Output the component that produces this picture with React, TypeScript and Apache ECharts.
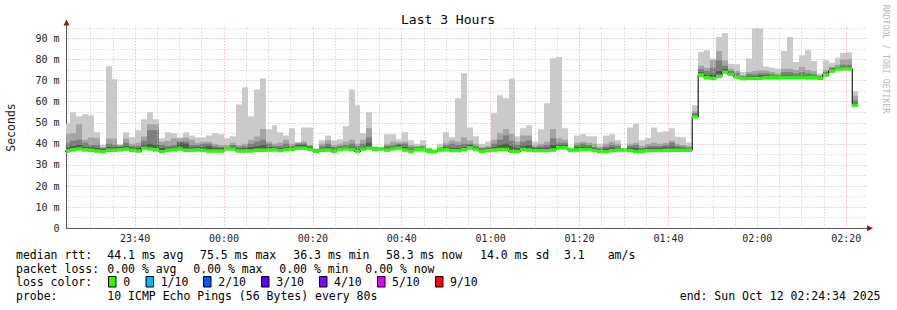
import React, { useEffect, useRef } from 'react';
import * as echarts from 'echarts';

// ---- time frame ----
const startClock = '23:24:34';
const endClock = '02:24:34';
const firstStepClock = '23:24:02';
const stepSeconds = 80;
const tickLabels = ['23:40', '00:00', '00:20', '00:40', '01:00', '01:20', '01:40', '02:00', '02:20'];
const gridMinutesStep = 5;
const majorGridMinutes = 20;

// ---- series (ms), one value per 80 s step ----
const median = [
  36.6, 37.2, 37.6, 37.2, 37.0, 36.6, 36.3, 37.0, 37.0, 37.2, 37.6, 37.0, 36.6, 38.0, 37.6, 37.2, 36.3, 37.0, 37.2, 37.6,
  37.0, 37.0, 37.2, 37.0, 36.6, 36.6, 36.6, 37.6, 37.6, 36.6, 36.6, 36.6, 37.0, 37.0,
  37.1, 37.2, 36.8, 37.3, 37.4, 38.0, 38.0, 37.4, 36.4, 37.0, 37.1, 36.5, 37.3, 37.6, 37.3, 36.4, 37.5, 38.0, 37.3, 37.6,
  37.1, 37.6, 38.0, 37.1, 36.5, 37.2, 37.2, 36.5, 36.3, 37.2, 37.2, 36.8, 36.8, 37.3,
  38.1, 37.3, 36.4, 36.8, 37.1, 37.3, 37.3, 36.4, 36.4, 37.3, 37.1, 36.8, 36.8, 36.8, 37.1, 38.2, 38.2, 37.1, 37.1, 37.3,
  37.3, 36.8, 36.3, 36.3, 36.8, 37.1, 37.1, 36.8, 36.4, 36.5, 36.8, 36.8, 36.8, 37.0,
  37.0, 37.0, 37.0, 37.0, 52.8, 72.6, 71.3, 71.0, 72.0, 74.0, 73.0, 71.7, 70.9, 71.0, 71.0, 71.0, 71.3, 71.3, 71.3, 71.5,
  71.5, 71.5, 71.5, 71.3, 71.3, 71.0, 72.7, 74.5, 75.5, 75.5, 75.5, 58.3,
];
const rttMin = [
  35.8, 36.4, 36.6, 36.3, 36.2, 35.9, 35.7, 36.2, 36.1, 36.4, 36.5, 36.2, 35.9, 36.8, 36.7, 36.3, 35.6, 36.2, 36.3, 36.5,
  36.1, 36.2, 36.4, 36.2, 35.9, 35.9, 35.8, 36.5, 36.5, 35.9, 35.8, 35.9, 36.2, 36.3,
  36.3, 36.4, 36.0, 36.5, 36.6, 37.0, 37.1, 36.6, 35.7, 36.2, 36.3, 35.8, 36.5, 36.8, 36.5, 35.7, 36.6, 37.1, 36.5, 36.8,
  36.3, 36.8, 37.1, 36.3, 35.8, 36.4, 36.4, 35.8, 35.6, 36.4, 36.4, 36.0, 36.0, 36.5,
  37.2, 36.5, 35.7, 36.0, 36.3, 36.5, 36.5, 35.7, 35.7, 36.5, 36.3, 36.0, 36.0, 36.0, 36.3, 37.3, 37.3, 36.3, 36.3, 36.5,
  36.5, 36.0, 35.6, 35.6, 36.0, 36.3, 36.3, 36.0, 35.7, 35.8, 36.0, 36.0, 36.0, 36.2,
  36.2, 36.2, 36.2, 36.2, 52.0, 71.5, 70.4, 70.2, 71.0, 73.0, 72.0, 70.8, 70.1, 70.2, 70.2, 70.2, 70.5, 70.5, 70.5, 70.6,
  70.6, 70.6, 70.6, 70.5, 70.5, 70.2, 71.8, 73.6, 74.5, 74.5, 74.5, 57.6,
];
const ping7 = [
  38.5, 39, 39.5, 38.5, 38.5, 38, 37.5, 38.5, 38.5, 38.5, 39, 38.3, 38, 39.5, 40, 39.5, 38, 38.2, 38.3, 40.6,
  40, 38.3, 38.5, 38.5, 39, 38, 38, 38.3, 38.8, 37.8, 38, 38.5, 39, 39.5,
  38.5, 38.3, 38, 38.5, 38.3, 39.5, 39.5, 38.5, 37, 38, 38.5, 37.5, 38.3, 38.5, 38.5, 37.5, 38.5, 40.5, 38, 37.8,
  38.3, 38.5, 39.5, 38.5, 37.5, 38, 38, 37, 36.8, 37.7, 38.5, 38, 38, 38.5,
  39.5, 38.3, 37.3, 37.8, 38.5, 39.5, 40, 39, 38, 39, 39.5, 38, 38, 38.3, 39.5, 39.5, 39.5, 37.4, 38.5, 38.8,
  38.5, 37.8, 37.2, 37.8, 38.3, 38, 37.4, 38.2, 38, 37.5, 38, 38, 38, 38.5,
  38.8, 38.3, 38, 37.8, 53.8, 74, 72.5, 73, 74.5, 75.5, 74, 72.5, 71.7, 72, 72, 72.5, 72.5, 72, 72, 72.5,
  72.5, 72.3, 72.5, 72.3, 72, 71.7, 73.5, 75.5, 76, 76.5, 76.5, 59.5,
];
const ping8 = [
  40.5, 41.5, 42, 40.5, 39.5, 39.5, 38, 40, 39.5, 39, 40.5, 39, 39, 41.5, 46.4, 46.4, 39.5, 39, 39.5, 41,
  41, 39.5, 39.5, 40, 40, 39, 38.5, 38.5, 39.5, 38.5, 39, 40, 41, 42,
  40, 39, 39, 40, 39, 40, 40, 39, 37.3, 39, 40, 38.5, 39, 39.5, 40, 39, 40, 43, 38.2, 38,
  39, 39.5, 40, 40, 38.5, 38.5, 38.8, 37.4, 37, 38, 39.5, 40, 39.5, 40,
  40, 39, 38, 38.3, 40, 42, 44, 41.5, 39.5, 41, 41.7, 38.5, 39, 39.5, 42.5, 40.5, 40.5, 37.6, 39.5, 40,
  39.5, 38.5, 37.8, 38.8, 39.5, 39, 37.6, 39, 39.5, 38, 39, 39, 39, 39.5,
  40.5, 39, 38.8, 38.3, 54.5, 75.5, 74.5, 76, 79.6, 77, 74.5, 73.5, 72, 73, 73, 73.5, 73.5, 73, 72.5, 74,
  74, 73.5, 74, 73.5, 73, 72, 74, 76, 76.5, 77.5, 77.5, 60.5,
];
const ping9 = [
  44.8, 45, 49.3, 42, 43, 42.6, 38.5, 42.5, 42.5, 39.5, 42.5, 40, 40.5, 43.5, 49.3, 49.3, 41, 41.5, 42.6, 42.5,
  43, 42, 40.5, 41, 41, 40, 39.5, 39.5, 40.5, 39.5, 40, 42, 43.5, 47,
  41, 40, 40.5, 42, 40, 40.6, 41, 39.5, 37.6, 40, 41.7, 39.5, 40, 41, 42, 40, 42, 47.4, 38.6, 38.3,
  40, 41, 40.7, 41, 39.5, 39, 39.5, 37.8, 37.2, 38.5, 40.5, 41.7, 41, 43,
  41.7, 40, 38.5, 39, 42, 45, 47, 44.8, 41, 44, 44, 39.5, 40, 41, 47, 42.6, 42, 37.8, 40.5, 41,
  40.5, 40, 38.5, 40, 41, 40, 37.8, 40, 40.5, 39, 40, 40.5, 40, 40.5,
  41.5, 40, 39.5, 39, 55.5, 77, 76, 79.6, 84, 79.6, 75.6, 74.5, 72.5, 74, 74.5, 74.8, 74.8, 74, 73.5, 75.6,
  75.6, 75, 76.4, 75, 74.5, 72.5, 75, 76.5, 77.5, 80, 80.2, 62.8,
];
const rttMax = [
  49.5, 55, 53.1, 54, 53.5, 45.5, 39.5, 76.8, 70.6, 39.8, 45.5, 43.1, 46.4, 51.6, 55, 51.6, 42.6, 45.5, 45, 43,
  45.5, 44, 43, 43, 44, 45, 44.5, 42.6, 43.6, 58.7, 66.8, 53, 65.8, 71,
  46.9, 48.8, 45.5, 44, 47.4, 40.6, 47.8, 47.8, 37.8, 41.7, 44, 41.7, 42.2, 48.3, 65.8, 58.3, 45, 55, 38.8, 38.5,
  44.5, 44.5, 42.2, 45.5, 41.7, 40.1, 41.7, 38.2, 37.3, 40.1, 45.5, 43.1, 61.6, 73.4,
  47.8, 43.6, 40.1, 41, 54.5, 63, 61.6, 70.9, 43.6, 47.4, 48.8, 41, 46.9, 59.2, 80.5, 81.2, 47.4, 38, 44, 44.5,
  43.6, 43.6, 40.1, 44, 44.5, 41.7, 38, 47.8, 49.6, 41.7, 42.8, 47.8, 45.5, 46,
  47.4, 43.4, 43.1, 40.7, 58.3, 83.5, 84.3, 80.4, 90.6, 92.5, 78, 77.7, 74, 80.4, 94.6, 94.6, 76.7, 76, 75.6, 84,
  90.6, 78.8, 82, 84.3, 79.3, 73.3, 79.6, 78.3, 80.8, 83, 83.4, 64.9,
];

// ---- legend texts ----
const medianStats = ['44.1 ms avg', '75.5 ms max', '36.3 ms min', '58.3 ms now', '14.0 ms sd', '3.1', 'am/s'];
const lossStats = ['0.00 % avg', '0.00 % max', '0.00 % min', '0.00 % now'];
const lossLabels = ['0', '1/10', '2/10', '3/10', '4/10', '5/10', '9/10'];
const lossColors = ['#26ff00', '#00b8ff', '#0059ff', '#5e00ff', '#7e00ff', '#dd00ff', '#ff0000'];
const probeText = '10 ICMP Echo Pings (56 Bytes) every 80s';

const smokeColors = ['#cacaca', '#a4a4a4', '#7e7e7e', '#585858'];
const MONO = '"DejaVu Sans Mono", monospace';

function clockMin(c: string): number {
  const p = c.split(':').map(Number);
  return p[0] * 60 + p[1] + (p[2] || 0) / 60;
}
const START = clockMin(startClock);
function rel(c: string): number {
  let r = clockMin(c) - START;
  if (r < -720) r += 1440;
  return r;
}
const SPAN = rel(endClock);
const STEP = stepSeconds / 60;
const FIRST = rel(firstStepClock);

export default function App() {
  const ref = useRef<HTMLDivElement>(null);
  useEffect(() => {
    if (!ref.current) return;
    const chart = echarts.init(ref.current, null, { renderer: 'svg' });

    const rows = median.map((m, j) => {
      const t0 = FIRST + j * STEP;
      return [t0, t0 + STEP, rttMin[j], m, ping7[j], ping8[j], ping9[j], rttMax[j]];
    });
    const lineData: number[][] = median.map((m, j) => [FIRST + j * STEP, m]);
    lineData.push([FIRST + median.length * STEP, median[median.length - 1]]);

    const tickVals = tickLabels.map(rel);

    // vertical grid lines every 5 min
    const vlines: any[] = [];
    const startWhole = Math.ceil(START / gridMinutesStep) * gridMinutesStep;
    for (let c = startWhole; c - START <= SPAN; c += gridMinutesStep) {
      const minuteOfDay = c % 1440;
      const major = minuteOfDay % majorGridMinutes === 0;
      vlines.push({
        xAxis: c - START,
        lineStyle: { color: major ? '#eba6a6' : '#c8c8c8', type: [1, 2], width: 1 },
      });
    }

    const rectFrom = (api: any, t0: number, t1: number, lo: number, hi: number, fill: string) => {
      const a = api.coord([t0, hi]);
      const b = api.coord([t1, lo]);
      const x = Math.round(a[0]);
      const w = Math.round(b[0]) - x;
      return { type: 'rect', shape: { x, y: a[1], width: w, height: b[1] - a[1] }, style: { fill }, silent: true };
    };

    const option: any = {
      animation: false,
      backgroundColor: '#ffffff',
      grid: { left: 66.5, right: 30.5, top: 26.7, bottom: 81.7, containLabel: false, outerBoundsMode: 'none' },
      xAxis: {
        type: 'value',
        min: 0,
        max: SPAN,
        axisLine: { show: true, lineStyle: { color: '#555', width: 1 } },
        axisTick: { show: false },
        splitLine: { show: false },
        axisLabel: {
          customValues: tickVals,
          formatter: (v: number) => {
            let best = '';
            let d = 1e9;
            tickVals.forEach((tv, i) => {
              if (Math.abs(tv - v) < d) { d = Math.abs(tv - v); best = tickLabels[i]; }
            });
            return d < 0.5 ? best : '';
          },
          margin: 5,
          fontFamily: MONO,
          fontSize: 10,
          color: '#222',
        },
      },
      yAxis: {
        type: 'value',
        min: 0,
        max: 95.5,
        interval: 5,
        name: 'Seconds',
        nameLocation: 'middle',
        nameGap: 50,
        nameRotate: 90,
        nameTextStyle: { fontFamily: MONO, fontSize: 11.5, color: '#222' },
        axisLine: { show: true, lineStyle: { color: '#555', width: 1 } },
        axisTick: { show: false },
        axisLabel: {
          formatter: (v: number) => (v % 10 === 0 ? (v === 0 ? '0' : `${v} m`) : ''),
          margin: 7,
          fontFamily: MONO,
          fontSize: 10,
          color: '#222',
        },
        splitLine: {
          show: true,
          showMaxLine: false,
          lineStyle: { color: ['#eba6a6', '#c8c8c8'], type: [1, 2], width: 1 },
        },
      },
      series: [
        {
          type: 'line',
          data: lineData,
          z: 1,
          showSymbol: false,
          symbol: 'none',
          lineStyle: { opacity: 0 },
          silent: true,
          markLine: {
            silent: true,
            symbol: ['none', 'none'],
            label: { show: false },
            data: vlines,
          },
        },
        {
          type: 'custom',
          z: 2,
          clip: true,
          data: rows,
          encode: { x: [0, 1], y: [2, 7] },
          renderItem: (params: any, api: any) => {
            const t0 = api.value(0);
            const t1 = api.value(1);
            const lo = api.value(2);
            const med = api.value(3);
            const tops = [api.value(7), api.value(6), api.value(5), api.value(4)];
            const bottoms = [lo, med, med, med];
            return {
              type: 'group',
              children: tops.map((hi: number, i: number) => rectFrom(api, t0, t1, bottoms[i], hi, smokeColors[i])),
            };
          },
        },
        {
          type: 'line',
          z: 3,
          step: 'end',
          data: lineData,
          showSymbol: false,
          symbol: 'none',
          clip: true,
          lineStyle: { color: '#202020', width: 1.2 },
          silent: true,
        },
        {
          type: 'custom',
          z: 4,
          clip: true,
          data: rows,
          encode: { x: [0, 1], y: 3 },
          renderItem: (params: any, api: any) => {
            const med = api.value(3);
            return rectFrom(api, api.value(0), api.value(1), med - 0.8, med + 0.8, lossColors[0]);
          },
        },
      ],
      graphic: [
        { type: 'text', x: 448, y: 19, style: { text: 'Last 3 Hours', fontFamily: MONO, fontSize: 13, fill: '#000', align: 'center', verticalAlign: 'middle' } },
        { type: 'text', x: 886, y: 59, rotation: -Math.PI / 2, style: { text: 'RRDTOOL / TOBI OETIKER', fontFamily: MONO, fontSize: 8.2, fill: '#b8b8b8', align: 'center', verticalAlign: 'middle' } },
        { type: 'line', shape: { x1: 66.5, y1: 27, x2: 66.5, y2: 22 }, style: { stroke: '#555', lineWidth: 1 } },
        { type: 'polygon', shape: { points: [[66.5, 19.5], [63.5, 25.5], [69.5, 25.5]] }, style: { fill: '#8b1c1c' } },
        { type: 'line', shape: { x1: 866, y1: 228.3, x2: 870, y2: 228.3 }, style: { stroke: '#555', lineWidth: 1 } },
        { type: 'polygon', shape: { points: [[873, 228.3], [867, 225.3], [867, 231.3]] }, style: { fill: '#8b1c1c' } },
        // row 1
        { type: 'text', x: 16, y: 254.5, style: { text: 'median rtt:', fontFamily: MONO, fontSize: 11.5, fill: '#000', verticalAlign: 'middle' } },
        ...medianStats.map((s, i) => ({
          type: 'text', x: [107.3, 200, 293.3, 386, 480, 564, 607.7][i], y: 254.5,
          style: { text: s, fontFamily: MONO, fontSize: 11.5, fill: '#000', verticalAlign: 'middle' },
        })),
        // row 2
        { type: 'text', x: 16, y: 268.5, style: { text: 'packet loss:', fontFamily: MONO, fontSize: 11.5, fill: '#000', verticalAlign: 'middle' } },
        ...lossStats.map((s, i) => ({
          type: 'text', x: [107.3, 193.3, 279.3, 365.3][i], y: 268.5,
          style: { text: s, fontFamily: MONO, fontSize: 11.5, fill: '#000', verticalAlign: 'middle' },
        })),
        // row 3
        { type: 'text', x: 16, y: 282, style: { text: 'loss color:', fontFamily: MONO, fontSize: 11.5, fill: '#000', verticalAlign: 'middle' } },
        ...lossLabels.map((s, i) => ({
          type: 'rect', shape: { x: [108.5, 146, 203.5, 261.5, 319.5, 377.5, 435.5][i], y: 276.5, width: 7.5, height: 10.5 },
          style: { fill: lossColors[i], stroke: '#000', lineWidth: 1 },
        })),
        ...lossLabels.map((s, i) => ({
          type: 'text', x: [123.3, 160.7, 218.3, 276.3, 334, 392, 450][i], y: 282,
          style: { text: s, fontFamily: MONO, fontSize: 11.5, fill: '#000', verticalAlign: 'middle' },
        })),
        // row 4
        { type: 'text', x: 16, y: 296, style: { text: 'probe:', fontFamily: MONO, fontSize: 11.5, fill: '#000', verticalAlign: 'middle' } },
        { type: 'text', x: 107.3, y: 296, style: { text: probeText, fontFamily: MONO, fontSize: 11.5, fill: '#000', verticalAlign: 'middle' } },
        { type: 'text', x: 880.5, y: 296, style: { text: endLabel, fontFamily: MONO, fontSize: 11.5, fill: '#000', align: 'right', verticalAlign: 'middle' } },
      ],
    };
    chart.setOption(option);
    return () => chart.dispose();
  }, []);
  return (
    <div
      ref={ref}
      style={{ position: 'absolute', left: 0, top: 0, width: 897, height: 310, background: '#fff' }}
    />
  );
}

const endLabel = 'end: Sun Oct 12 02:24:34 2025';
